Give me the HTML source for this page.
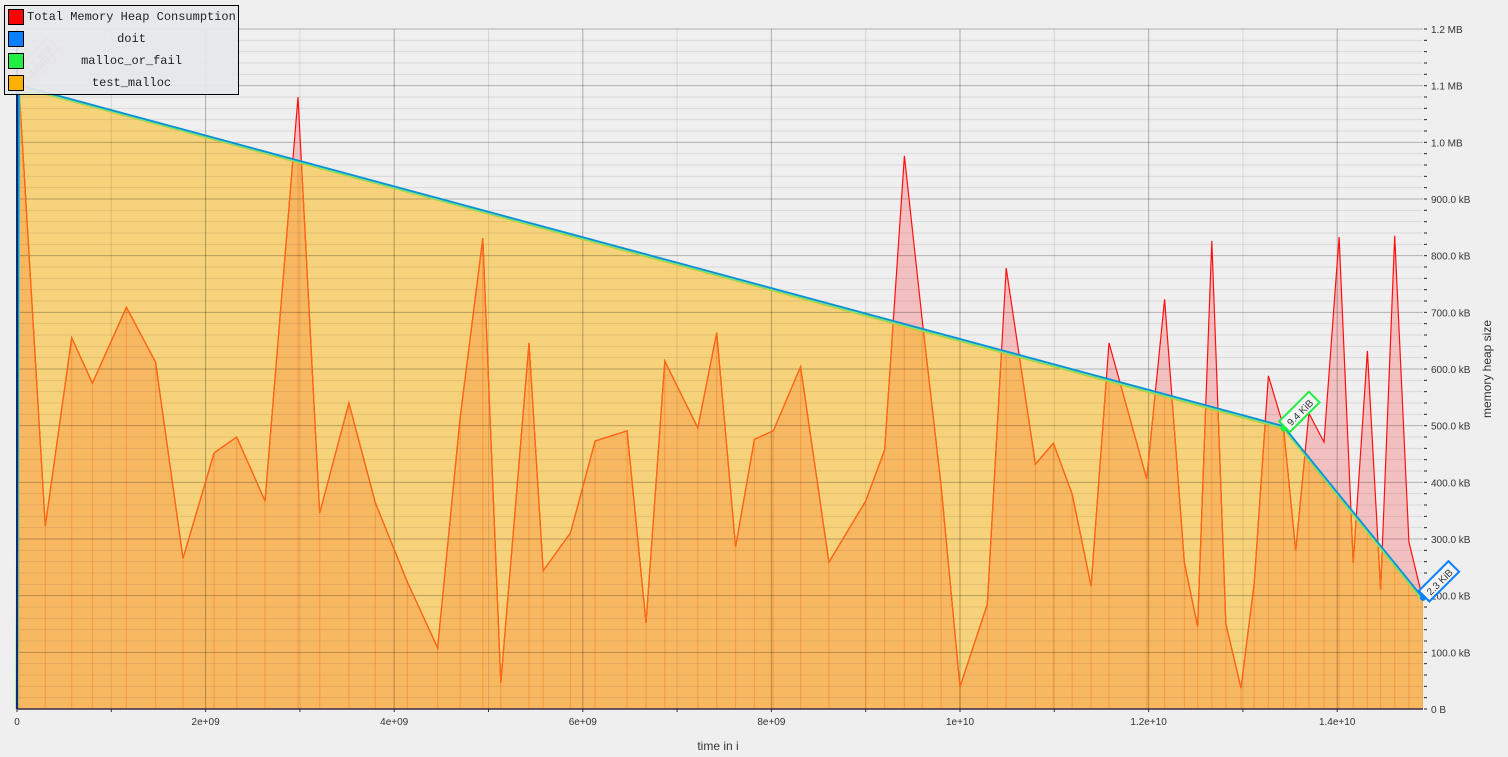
<!DOCTYPE html>
<html><head><meta charset="utf-8"><style>
html,body{margin:0;padding:0;background:#efefef;width:1508px;height:757px;overflow:hidden}
svg{display:block;font-family:"Liberation Sans",sans-serif}
#legend{position:absolute;left:4px;top:5px;width:233px;height:88px;border:1px solid #000;background:rgba(230,231,233,0.92);font-family:"Liberation Mono","DejaVu Sans Mono",monospace;font-size:12px;color:#222;white-space:nowrap}
.le{position:absolute;left:2px;height:20px;width:229px}
.sw{position:absolute;left:1px;top:2px;width:14px;height:14px;border:1px solid #000}
.lt{position:absolute;left:20px;right:0;top:3px;text-align:center}
</style></head><body>
<svg id="chart" width="1508" height="757"></svg>
<div id="legend">
 <div class="le" style="top:1px"><div class="sw" style="background:#ff0000"></div><div class="lt" style="left:20px;text-align:left">Total Memory Heap Consumption</div></div>
 <div class="le" style="top:23px"><div class="sw" style="background:#0a7fff"></div><div class="lt">doit</div></div>
 <div class="le" style="top:45px"><div class="sw" style="background:#22ee44"></div><div class="lt">malloc_or_fail</div></div>
 <div class="le" style="top:67px"><div class="sw" style="background:#ffb000"></div><div class="lt">test_malloc</div></div>
</div>
<script>
// time in units of 1e9, memory in kB
const totalTimes=[0,0.02,0.30,0.58,0.80,1.16,1.47,1.76,2.09,2.33,2.63,2.98,3.21,3.52,3.80,4.14,4.46,4.70,4.94,5.13,5.43,5.58,5.87,6.13,6.47,6.67,6.87,7.22,7.42,7.62,7.82,8.02,8.31,8.61,9.00,9.20,9.41,9.60,9.80,10.00,10.29,10.49,10.80,10.99,11.19,11.39,11.58,11.98,12.17,12.38,12.52,12.67,12.82,12.98,13.12,13.27,13.43,13.56,13.70,13.86,14.02,14.17,14.32,14.46,14.61,14.76,14.91];
const totalValues=[0,1101,323,655,575,709,612,266,452,480,367,1080,346,540,364,224,108,515,831,46,646,244,311,473,491,152,614,496,664,286,476,491,604,259,367,457,976,685,394,39,185,778,432,469,379,217,646,406,723,258,146,826,150,37,222,588,499,279,522,471,833,258,632,210,835,295,192];
const doitTimes=[0,0.02,13.43,14.91];
const doitValues=[0,1101,499,196];
const mallocOrFailValues=[0,1098,495,191];
const yTickValues=[0,100,200,300,400,500,600,700,800,900,1000,1100,1200];
const yTickLabels=["0 B","100.0 kB","200.0 kB","300.0 kB","400.0 kB","500.0 kB","600.0 kB","700.0 kB","800.0 kB","900.0 kB","1.0 MB","1.1 MB","1.2 MB"];
const xTickValues=[0,2,4,6,8,10,12,14];
const xTickLabels=["0","2e+09","4e+09","6e+09","8e+09","1e+10","1.2e+10","1.4e+10"];

const X0=17,X1=1423,Y0=709,YT=29;
const xs=t=>X0+t*94.3;
const ys=v=>Y0-(v/1200)*(Y0-YT);
const NS="http://www.w3.org/2000/svg";
const svg=document.getElementById('chart');
function mk(tag,attrs,parent){const e=document.createElementNS(NS,tag);for(const k in attrs)e.setAttribute(k,attrs[k]);(parent||svg).appendChild(e);return e;}
const pts=(T,V)=>T.map((t,i)=>xs(t).toFixed(1)+','+ys(V[i]).toFixed(1)).join(' ');
const tMax=(X1-X0)/94.3;
const areaPts=(T,V)=>pts(T,V)+' '+xs(T[T.length-1]).toFixed(1)+','+Y0+' '+xs(T[0]).toFixed(1)+','+Y0;

const defs=mk('defs',{});
const cp=mk('clipPath',{id:'under'},defs);
mk('polygon',{points:areaPts(doitTimes,mallocOrFailValues)},cp);
const cpPlot=mk('clipPath',{id:'plot'},defs);
mk('rect',{x:X0,y:YT-5,width:X1-X0,height:Y0-YT+5},cpPlot);

const pink=mk('polygon',{points:areaPts(totalTimes,totalValues),fill:'#f3c0c1'});


const yel=mk('polygon',{points:areaPts(doitTimes,mallocOrFailValues),fill:'#f6d27a'});


const g=mk('g',{'clip-path':'url(#under)'});
const ora=mk('polygon',{points:areaPts(totalTimes,totalValues),fill:'#f8b862'},g);


totalTimes.forEach((t,i)=>{const l=mk('line',{x1:xs(t),x2:xs(t),y1:Y0,y2:ys(totalValues[i]),stroke:'#f7983c','stroke-width':1.2,opacity:0.8},g);

});

const grid=mk('g',{'clip-path':'url(#plot)'});
for(let v=0;v<=1200;v+=20){const major=v%100===0;mk('line',{x1:X0,x2:X1,y1:ys(v),y2:ys(v),stroke:major?'rgba(0,0,0,0.26)':'rgba(0,0,0,0.09)','stroke-width':1},grid);}
for(let t=1;t<tMax;t+=1){mk('line',{x1:xs(t),x2:xs(t),y1:YT,y2:Y0,stroke:t%2===0?'rgba(0,0,0,0.28)':'rgba(0,0,0,0.1)','stroke-width':1},grid);}

const red=mk('polyline',{points:pts(totalTimes,totalValues),fill:'none',stroke:'#ff1010','stroke-width':1.2});


const g2=mk('g',{'clip-path':'url(#under)'});
const orl=mk('polyline',{points:pts(totalTimes,totalValues),fill:'none',stroke:'#ff6a10','stroke-width':1.2},g2);



const gl=mk('polyline',{points:pts(doitTimes,mallocOrFailValues),fill:'none',stroke:'#e0c000','stroke-width':2});


const grn=mk('polyline',{points:pts(doitTimes,doitValues.map((v,i)=>(v+mallocOrFailValues[i])/2)),fill:'none',stroke:'#7ee07a','stroke-width':3});


const blu=mk('polyline',{points:pts(doitTimes,doitValues),fill:'none',stroke:'#0a90d8','stroke-width':1.8});



mk('line',{x1:X0,x2:X0,y1:YT,y2:Y0,stroke:'#0a2a7a','stroke-width':2});
mk('line',{x1:X0,x2:X1,y1:Y0,y2:Y0,stroke:'#3a2a4a','stroke-width':1.5});
for(let t=0;t<tMax;t+=1){mk('line',{x1:xs(t),x2:xs(t),y1:Y0,y2:Y0+3,stroke:'#333'});}
xTickValues.forEach((t,i)=>{const tx=mk('text',{x:xs(t),y:Y0+16,'text-anchor':'middle','font-size':10,fill:'#333'});tx.textContent=xTickLabels[i];

});
for(let v=0;v<=1200;v+=20){mk('line',{x1:X1+1,x2:X1+4,y1:ys(v),y2:ys(v),stroke:'#222'});}
yTickValues.forEach((v,i)=>{const tx=mk('text',{x:X1+8,y:ys(v)+4,'font-size':10,fill:'#333'});tx.textContent=yTickLabels[i];

});
const xt=mk('text',{x:718,y:750,'text-anchor':'middle','font-size':12,fill:'#333'});xt.textContent='time in i';


const yt=mk('text',{x:0,y:0,'text-anchor':'middle','font-size':12,fill:'#333',transform:'translate(1491,369) rotate(-90)'});yt.textContent='memory heap size';



function tag(x,y,txt,col,name,op){
 const gg=mk('g',{transform:`translate(${x},${y}) rotate(-45)`,opacity:op});
 
 
 mk('rect',{x:2,y:-8,width:42,height:15,fill:'#f4f4f4',stroke:col,'stroke-width':2},gg);
 const t=mk('text',{x:23,y:4,'text-anchor':'middle','font-size':10,fill:'#333'},gg);t.textContent=txt;
}
tag(20,85,'1.1 MiB','#f0c080','peak-label-test-malloc',0.5);
tag(22,75,'1.1 MiB','#f08080','peak-label-total',0.4);
mk('circle',{cx:xs(doitTimes[2]),cy:ys(mallocOrFailValues[2]),r:3,fill:'#22ee44'});
tag(xs(doitTimes[2]),ys(mallocOrFailValues[2]),'9.4 KiB','#22ee44','peak-label-malloc-or-fail',1);
mk('circle',{cx:xs(doitTimes[3]),cy:ys(doitValues[3]),r:3,fill:'#0a7fff'});
tag(xs(doitTimes[3]),ys(doitValues[3]),'2.3 KiB','#0a7fff','peak-label-doit',1);
</script>
</body></html>
